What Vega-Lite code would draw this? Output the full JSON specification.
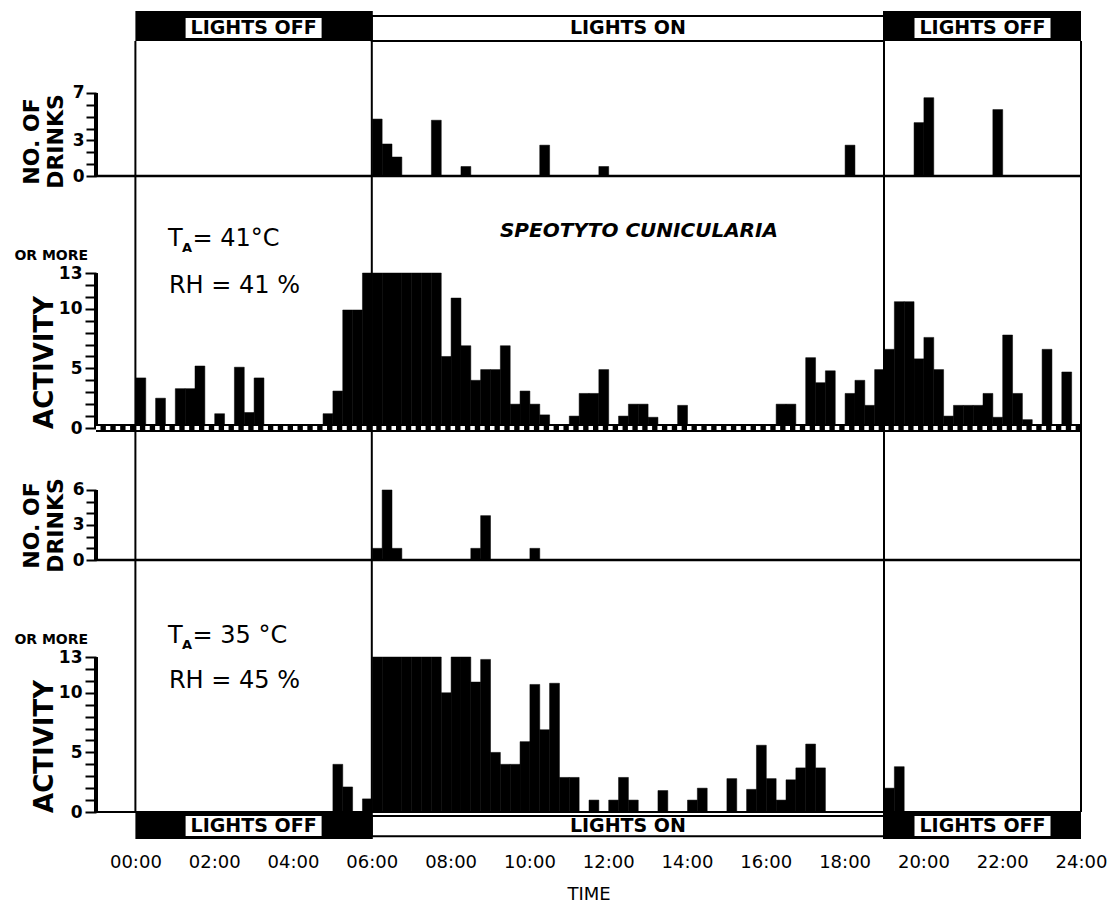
{
  "$schema": "https://vega.github.io/schema/vega-lite/v6.json",
  "background": "white",
  "padding": {"left": 14, "top": 10, "right": 5, "bottom": 5},
  "datasets": {
    "lights": [
      {"start": 0, "end": 6, "mid": 3, "phase": "LIGHTS OFF"},
      {"start": 6, "end": 19, "mid": 12.5, "phase": "LIGHTS ON"},
      {"start": 19, "end": 24, "mid": 21.5, "phase": "LIGHTS OFF"}
    ],
    "drinks41": [
      {"t": 6, "n": 4.8}, {"t": 6.25, "n": 2.7}, {"t": 6.5, "n": 1.6}, {"t": 7.5, "n": 4.7},
      {"t": 8.25, "n": 0.8}, {"t": 10.25, "n": 2.6}, {"t": 11.75, "n": 0.8}, {"t": 18, "n": 2.6},
      {"t": 19.75, "n": 4.5}, {"t": 20, "n": 6.6}, {"t": 21.75, "n": 5.6}
    ],
    "activity41": [
      {"t": 0, "n": 4.2}, {"t": 0.5, "n": 2.5}, {"t": 1, "n": 3.3}, {"t": 1.25, "n": 3.3},
      {"t": 1.5, "n": 5.2}, {"t": 2, "n": 1.2}, {"t": 2.5, "n": 5.1}, {"t": 2.75, "n": 1.3},
      {"t": 3, "n": 4.2}, {"t": 4.75, "n": 1.2}, {"t": 5, "n": 3.1}, {"t": 5.25, "n": 9.9},
      {"t": 5.5, "n": 9.9}, {"t": 5.75, "n": 13}, {"t": 6, "n": 13}, {"t": 6.25, "n": 13},
      {"t": 6.5, "n": 13}, {"t": 6.75, "n": 13}, {"t": 7, "n": 13}, {"t": 7.25, "n": 13},
      {"t": 7.5, "n": 13}, {"t": 7.75, "n": 6}, {"t": 8, "n": 10.9}, {"t": 8.25, "n": 6.9},
      {"t": 8.5, "n": 4}, {"t": 8.75, "n": 4.9}, {"t": 9, "n": 4.9}, {"t": 9.25, "n": 6.9},
      {"t": 9.5, "n": 2}, {"t": 9.75, "n": 3.1}, {"t": 10, "n": 2}, {"t": 10.25, "n": 1.1},
      {"t": 11, "n": 1}, {"t": 11.25, "n": 2.9}, {"t": 11.5, "n": 2.9}, {"t": 11.75, "n": 4.9},
      {"t": 12.25, "n": 1}, {"t": 12.5, "n": 2}, {"t": 12.75, "n": 2}, {"t": 13, "n": 0.9},
      {"t": 13.75, "n": 1.9}, {"t": 16.25, "n": 2}, {"t": 16.5, "n": 2}, {"t": 17, "n": 5.9},
      {"t": 17.25, "n": 3.8}, {"t": 17.5, "n": 4.8}, {"t": 18, "n": 2.9}, {"t": 18.25, "n": 4},
      {"t": 18.5, "n": 1.9}, {"t": 18.75, "n": 4.9}, {"t": 19, "n": 6.6}, {"t": 19.25, "n": 10.6},
      {"t": 19.5, "n": 10.6}, {"t": 19.75, "n": 5.8}, {"t": 20, "n": 7.6}, {"t": 20.25, "n": 4.9},
      {"t": 20.5, "n": 1}, {"t": 20.75, "n": 1.9}, {"t": 21, "n": 1.9}, {"t": 21.25, "n": 1.9},
      {"t": 21.5, "n": 2.9}, {"t": 21.75, "n": 0.9}, {"t": 22, "n": 7.8}, {"t": 22.25, "n": 2.9},
      {"t": 22.5, "n": 0.7}, {"t": 23, "n": 6.6}, {"t": 23.5, "n": 4.7}
    ],
    "drinks35": [
      {"t": 6, "n": 1}, {"t": 6.25, "n": 6}, {"t": 6.5, "n": 1}, {"t": 8.5, "n": 1},
      {"t": 8.75, "n": 3.8}, {"t": 10, "n": 1}
    ],
    "activity35": [
      {"t": 5, "n": 4}, {"t": 5.25, "n": 2.1}, {"t": 5.75, "n": 1.1}, {"t": 6, "n": 13},
      {"t": 6.25, "n": 13}, {"t": 6.5, "n": 13}, {"t": 6.75, "n": 13}, {"t": 7, "n": 13},
      {"t": 7.25, "n": 13}, {"t": 7.5, "n": 13}, {"t": 7.75, "n": 10}, {"t": 8, "n": 13},
      {"t": 8.25, "n": 13}, {"t": 8.5, "n": 10.9}, {"t": 8.75, "n": 12.8}, {"t": 9, "n": 5},
      {"t": 9.25, "n": 4}, {"t": 9.5, "n": 4}, {"t": 9.75, "n": 5.9}, {"t": 10, "n": 10.7},
      {"t": 10.25, "n": 6.9}, {"t": 10.5, "n": 10.8}, {"t": 10.75, "n": 2.9}, {"t": 11, "n": 2.9},
      {"t": 11.5, "n": 1}, {"t": 12, "n": 1}, {"t": 12.25, "n": 2.9}, {"t": 12.5, "n": 1},
      {"t": 13.25, "n": 1.8}, {"t": 14, "n": 1}, {"t": 14.25, "n": 2}, {"t": 15, "n": 2.8},
      {"t": 15.5, "n": 1.9}, {"t": 15.75, "n": 5.6}, {"t": 16, "n": 2.8}, {"t": 16.25, "n": 1},
      {"t": 16.5, "n": 2.7}, {"t": 16.75, "n": 3.7}, {"t": 17, "n": 5.7}, {"t": 17.25, "n": 3.7},
      {"t": 19, "n": 2}, {"t": 19.25, "n": 3.8}
    ]
  },
  "spacing": 0,
  "bounds": "flush",
  "resolve": {"scale": {"x": "independent", "y": "independent"}},
  "vconcat": [
    {
      "width": 985,
      "height": 30,
      "data": {"name": "lights"},
      "layer": [
        {
          "transform": [{"filter": "datum.phase == 'LIGHTS OFF'"}],
          "mark": {"type": "rect", "color": "black"},
          "encoding": {
            "x": {"field": "start", "type": "quantitative", "scale": {"domain": [-1, 24], "nice": false, "zero": false}, "axis": null},
            "x2": {"field": "end"},
            "y": {"datum": 0, "type": "quantitative", "scale": {"domain": [0, 1], "nice": false}, "axis": null},
            "y2": {"datum": 1}
          }
        },
        {
          "transform": [{"filter": "datum.phase == 'LIGHTS ON'"}],
          "mark": {"type": "rect", "fill": "white", "stroke": "black", "strokeWidth": 2},
          "encoding": {
            "x": {"field": "start", "type": "quantitative", "axis": null},
            "x2": {"field": "end"},
            "y": {"datum": 0, "type": "quantitative", "axis": null},
            "y2": {"datum": 0.83}
          }
        },
        {
          "transform": [{"filter": "datum.phase == 'LIGHTS OFF'"}],
          "mark": {"type": "point", "shape": "M-1,-0.147H1V0.147H-1Z", "filled": true, "fill": "white", "strokeWidth": 0, "opacity": 1, "size": 18496},
          "encoding": {
            "x": {"field": "mid", "type": "quantitative", "axis": null},
            "y": {"datum": 0.43, "type": "quantitative", "axis": null}
          }
        },
        {
          "mark": {"type": "text", "fontSize": 19, "fontWeight": "bold", "color": "black", "baseline": "middle"},
          "encoding": {
            "x": {"field": "mid", "type": "quantitative", "axis": null},
            "y": {"datum": 0.43, "type": "quantitative", "axis": null},
            "text": {"field": "phase"}
          }
        },
        {
          "transform": [{"filter": "datum.start > 0"}],
          "mark": {"type": "rule", "color": "black", "strokeWidth": 2},
          "encoding": {"x": {"field": "start", "type": "quantitative", "axis": null}}
        }
      ]
    },
    {
      "width": 985,
      "height": 135,
      "resolve": {"axis": {"y": "independent"}},
      "layer": [
        {
          "data": {"name": "drinks41"},
          "mark": {"type": "bar", "color": "black", "binSpacing": 0, "stroke": "black", "strokeWidth": 0.5},
          "encoding": {
            "x": {"field": "t", "type": "quantitative", "bin": {"binned": true, "step": 0.25}, "scale": {"domain": [-1, 24], "nice": false, "zero": false}, "axis": null},
            "y": {
              "field": "n", "type": "quantitative",
              "scale": {"domain": [0, 11.38], "nice": false},
              "axis": {
                "title": ["NO. OF", "DRINKS"], "values": [0, 1, 2, 3, 4, 5, 6, 7],
                "labelExpr": "indexof([0, 3, 7], datum.value) >= 0 ? datum.label : ''",
                "domain": false, "grid": false, "tickSize": 10, "tickWidth": 2, "tickColor": "black",
                "labelFontSize": 17, "labelFontWeight": "bold", "labelColor": "black", "labelPadding": 2,
                "labelFlush": false, "labelOverlap": false, "labelBound": false,
                "titleFontSize": 22, "titleFontWeight": "bold", "titleColor": "black", "titleLineHeight": 24,
                "titleAngle": -90, "titleAlign": "center", "titleBaseline": "middle", "titleX": -65, "titleY": 100
              }
            }
          }
        },
        {
          "data": {"values": [{}]},
          "mark": {"type": "rule", "color": "black", "strokeWidth": 4},
          "encoding": {
            "x": {"datum": -1, "type": "quantitative", "axis": null},
            "y": {"datum": 0, "type": "quantitative", "axis": null},
            "y2": {"datum": 7}
          }
        },
        {
          "data": {"values": [{}]},
          "mark": {"type": "rule", "color": "black", "strokeWidth": 2.5},
          "encoding": {
            "x": {"datum": -1, "type": "quantitative", "axis": null},
            "x2": {"datum": 24},
            "y": {"datum": 0, "type": "quantitative", "axis": null}
          }
        },
        {
          "data": {"name": "lights"},
          "mark": {"type": "rule", "color": "black", "strokeWidth": 2},
          "encoding": {"x": {"field": "start", "type": "quantitative", "axis": null}}
        },
        {
          "data": {"values": [{}]},
          "mark": {"type": "rule", "color": "black", "strokeWidth": 2},
          "encoding": {"x": {"datum": 24, "type": "quantitative", "axis": null}}
        }
      ]
    },
    {
      "width": 985,
      "height": 252,
      "resolve": {"axis": {"y": "independent"}},
      "layer": [
        {
          "data": {"name": "activity41"},
          "mark": {"type": "bar", "color": "black", "binSpacing": 0, "stroke": "black", "strokeWidth": 0.5},
          "encoding": {
            "x": {"field": "t", "type": "quantitative", "bin": {"binned": true, "step": 0.25}, "scale": {"domain": [-1, 24], "nice": false, "zero": false}, "axis": null},
            "y": {
              "field": "n", "type": "quantitative",
              "scale": {"domain": [0, 21.14], "nice": false},
              "axis": {
                "title": "ACTIVITY", "values": [0, 1, 2, 3, 4, 5, 6, 7, 8, 9, 10, 11, 12, 13],
                "labelExpr": "indexof([0, 5, 10, 13], datum.value) >= 0 ? datum.label : ''",
                "domain": false, "grid": false, "tickSize": 11, "tickWidth": 2, "tickColor": "black",
                "labelFontSize": 17, "labelFontWeight": "bold", "labelColor": "black", "labelPadding": 3,
                "labelFlush": false, "labelOverlap": false, "labelBound": false,
                "titleFontSize": 26, "titleFontWeight": "bold", "titleColor": "black",
                "titleAngle": -90, "titleAlign": "center", "titleBaseline": "middle", "titleX": -52, "titleY": 186
              }
            }
          }
        },
        {
          "data": {"values": [{}]},
          "mark": {"type": "rule", "color": "black", "strokeWidth": 4},
          "encoding": {
            "x": {"datum": -1, "type": "quantitative", "axis": null},
            "y": {"datum": 0, "type": "quantitative", "axis": null},
            "y2": {"datum": 13}
          }
        },
        {
          "data": {"values": [{}]},
          "mark": {"type": "rule", "color": "black", "strokeWidth": 8},
          "encoding": {
            "x": {"datum": -1, "type": "quantitative", "axis": null},
            "x2": {"datum": 24},
            "y": {"datum": 0, "type": "quantitative", "axis": null}
          }
        },
        {
          "data": {"values": [{}]},
          "mark": {"type": "rule", "color": "white", "strokeWidth": 4, "strokeDash": [4.5, 5.35]},
          "encoding": {
            "x": {"datum": -1, "type": "quantitative", "axis": null},
            "x2": {"datum": 24},
            "y": {"datum": 0, "type": "quantitative", "axis": null}
          }
        },
        {
          "data": {"name": "lights"},
          "mark": {"type": "rule", "color": "black", "strokeWidth": 2},
          "encoding": {"x": {"field": "start", "type": "quantitative", "axis": null}}
        },
        {
          "data": {"values": [{}]},
          "mark": {"type": "rule", "color": "black", "strokeWidth": 2},
          "encoding": {"x": {"datum": 24, "type": "quantitative", "axis": null}}
        },
        {
          "data": {"values": [{}]},
          "mark": {"type": "text", "text": "T", "fontSize": 24, "align": "left", "baseline": "middle", "color": "black"},
          "encoding": {"x": {"datum": 0.83, "type": "quantitative", "axis": null}, "y": {"datum": 15.85, "type": "quantitative", "axis": null}}
        },
        {
          "data": {"values": [{}]},
          "mark": {"type": "text", "text": "A", "fontSize": 13, "fontWeight": "bold", "align": "left", "baseline": "middle", "color": "black"},
          "encoding": {"x": {"datum": 1.18, "type": "quantitative", "axis": null}, "y": {"datum": 15.1, "type": "quantitative", "axis": null}}
        },
        {
          "data": {"values": [{}]},
          "mark": {"type": "text", "text": "= 41°C", "fontSize": 24, "align": "left", "baseline": "middle", "color": "black"},
          "encoding": {"x": {"datum": 1.45, "type": "quantitative", "axis": null}, "y": {"datum": 15.85, "type": "quantitative", "axis": null}}
        },
        {
          "data": {"values": [{}]},
          "mark": {"type": "text", "text": "RH = 41 %", "fontSize": 24, "align": "left", "baseline": "middle", "color": "black"},
          "encoding": {"x": {"datum": 0.85, "type": "quantitative", "axis": null}, "y": {"datum": 11.9, "type": "quantitative", "axis": null}}
        },
        {
          "data": {"values": [{}]},
          "mark": {"type": "text", "text": "SPEOTYTO CUNICULARIA", "fontSize": 20, "fontWeight": "bold", "fontStyle": "italic", "align": "center", "baseline": "middle", "color": "black"},
          "encoding": {"x": {"datum": 12.78, "type": "quantitative", "axis": null}, "y": {"datum": 16.5, "type": "quantitative", "axis": null}}
        },
        {
          "data": {"values": [{}]},
          "mark": {"type": "text", "text": "OR MORE", "fontSize": 14, "fontWeight": "bold", "align": "right", "baseline": "middle", "color": "black"},
          "encoding": {"x": {"datum": -1.2, "type": "quantitative", "axis": null}, "y": {"datum": 14.4, "type": "quantitative", "axis": null}}
        }
      ]
    },
    {
      "width": 985,
      "height": 132,
      "resolve": {"axis": {"y": "independent"}},
      "layer": [
        {
          "data": {"name": "drinks35"},
          "mark": {"type": "bar", "color": "black", "binSpacing": 0, "stroke": "black", "strokeWidth": 0.5},
          "encoding": {
            "x": {"field": "t", "type": "quantitative", "bin": {"binned": true, "step": 0.25}, "scale": {"domain": [-1, 24], "nice": false, "zero": false}, "axis": null},
            "y": {
              "field": "n", "type": "quantitative",
              "scale": {"domain": [0, 11.31], "nice": false},
              "axis": {
                "title": ["NO. OF", "DRINKS"], "values": [0, 1, 2, 3, 4, 5, 6],
                "labelExpr": "indexof([0, 3, 6], datum.value) >= 0 ? datum.label : ''",
                "domain": false, "grid": false, "tickSize": 10, "tickWidth": 2, "tickColor": "black",
                "labelFontSize": 17, "labelFontWeight": "bold", "labelColor": "black", "labelPadding": 2,
                "labelFlush": false, "labelOverlap": false, "labelBound": false,
                "titleFontSize": 22, "titleFontWeight": "bold", "titleColor": "black", "titleLineHeight": 24,
                "titleAngle": -90, "titleAlign": "center", "titleBaseline": "middle", "titleX": -65, "titleY": 97
              }
            }
          }
        },
        {
          "data": {"values": [{}]},
          "mark": {"type": "rule", "color": "black", "strokeWidth": 4},
          "encoding": {
            "x": {"datum": -1, "type": "quantitative", "axis": null},
            "y": {"datum": 0, "type": "quantitative", "axis": null},
            "y2": {"datum": 6}
          }
        },
        {
          "data": {"values": [{}]},
          "mark": {"type": "rule", "color": "black", "strokeWidth": 2.5},
          "encoding": {
            "x": {"datum": -1, "type": "quantitative", "axis": null},
            "x2": {"datum": 24},
            "y": {"datum": 0, "type": "quantitative", "axis": null}
          }
        },
        {
          "data": {"name": "lights"},
          "mark": {"type": "rule", "color": "black", "strokeWidth": 2},
          "encoding": {"x": {"field": "start", "type": "quantitative", "axis": null}}
        },
        {
          "data": {"values": [{}]},
          "mark": {"type": "rule", "color": "black", "strokeWidth": 2},
          "encoding": {"x": {"datum": 24, "type": "quantitative", "axis": null}}
        }
      ]
    },
    {
      "width": 985,
      "height": 252,
      "resolve": {"axis": {"y": "independent"}},
      "layer": [
        {
          "data": {"name": "activity35"},
          "mark": {"type": "bar", "color": "black", "binSpacing": 0, "stroke": "black", "strokeWidth": 0.5},
          "encoding": {
            "x": {"field": "t", "type": "quantitative", "bin": {"binned": true, "step": 0.25}, "scale": {"domain": [-1, 24], "nice": false, "zero": false}, "axis": null},
            "y": {
              "field": "n", "type": "quantitative",
              "scale": {"domain": [0, 21.14], "nice": false},
              "axis": {
                "title": "ACTIVITY", "values": [0, 1, 2, 3, 4, 5, 6, 7, 8, 9, 10, 11, 12, 13],
                "labelExpr": "indexof([0, 5, 10, 13], datum.value) >= 0 ? datum.label : ''",
                "domain": false, "grid": false, "tickSize": 11, "tickWidth": 2, "tickColor": "black",
                "labelFontSize": 17, "labelFontWeight": "bold", "labelColor": "black", "labelPadding": 3,
                "labelFlush": false, "labelOverlap": false, "labelBound": false,
                "titleFontSize": 26, "titleFontWeight": "bold", "titleColor": "black",
                "titleAngle": -90, "titleAlign": "center", "titleBaseline": "middle", "titleX": -52, "titleY": 186
              }
            }
          }
        },
        {
          "data": {"values": [{}]},
          "mark": {"type": "rule", "color": "black", "strokeWidth": 4},
          "encoding": {
            "x": {"datum": -1, "type": "quantitative", "axis": null},
            "y": {"datum": 0, "type": "quantitative", "axis": null},
            "y2": {"datum": 13}
          }
        },
        {
          "data": {"values": [{}]},
          "mark": {"type": "rule", "color": "black", "strokeWidth": 2},
          "encoding": {
            "x": {"datum": -1, "type": "quantitative", "axis": null},
            "x2": {"datum": 24},
            "y": {"datum": 0, "type": "quantitative", "axis": null}
          }
        },
        {
          "data": {"name": "lights"},
          "mark": {"type": "rule", "color": "black", "strokeWidth": 2},
          "encoding": {"x": {"field": "start", "type": "quantitative", "axis": null}}
        },
        {
          "data": {"values": [{}]},
          "mark": {"type": "rule", "color": "black", "strokeWidth": 2},
          "encoding": {"x": {"datum": 24, "type": "quantitative", "axis": null}}
        },
        {
          "data": {"values": [{}]},
          "mark": {"type": "text", "text": "T", "fontSize": 24, "align": "left", "baseline": "middle", "color": "black"},
          "encoding": {"x": {"datum": 0.83, "type": "quantitative", "axis": null}, "y": {"datum": 14.8, "type": "quantitative", "axis": null}}
        },
        {
          "data": {"values": [{}]},
          "mark": {"type": "text", "text": "A", "fontSize": 13, "fontWeight": "bold", "align": "left", "baseline": "middle", "color": "black"},
          "encoding": {"x": {"datum": 1.18, "type": "quantitative", "axis": null}, "y": {"datum": 14.05, "type": "quantitative", "axis": null}}
        },
        {
          "data": {"values": [{}]},
          "mark": {"type": "text", "text": "= 35 °C", "fontSize": 24, "align": "left", "baseline": "middle", "color": "black"},
          "encoding": {"x": {"datum": 1.45, "type": "quantitative", "axis": null}, "y": {"datum": 14.8, "type": "quantitative", "axis": null}}
        },
        {
          "data": {"values": [{}]},
          "mark": {"type": "text", "text": "RH = 45 %", "fontSize": 24, "align": "left", "baseline": "middle", "color": "black"},
          "encoding": {"x": {"datum": 0.85, "type": "quantitative", "axis": null}, "y": {"datum": 11.0, "type": "quantitative", "axis": null}}
        },
        {
          "data": {"values": [{}]},
          "mark": {"type": "text", "text": "OR MORE", "fontSize": 14, "fontWeight": "bold", "align": "right", "baseline": "middle", "color": "black"},
          "encoding": {"x": {"datum": -1.2, "type": "quantitative", "axis": null}, "y": {"datum": 14.4, "type": "quantitative", "axis": null}}
        }
      ]
    },
    {
      "width": 985,
      "height": 27,
      "data": {"name": "lights"},
      "resolve": {"axis": {"x": "independent"}},
      "layer": [
        {
          "transform": [{"filter": "datum.phase == 'LIGHTS OFF'"}],
          "mark": {"type": "rect", "color": "black"},
          "encoding": {
            "x": {
              "field": "start", "type": "quantitative",
              "scale": {"domain": [-1, 24], "nice": false, "zero": false},
              "axis": {
                "values": [0, 2, 4, 6, 8, 10, 12, 14, 16, 18, 20, 22, 24],
                "labelExpr": "(datum.value < 10 ? '0' : '') + datum.value + ':00'",
                "domain": false, "ticks": false, "grid": false,
                "labelFontSize": 18, "labelColor": "black", "labelPadding": 14,
                "labelFlush": false, "labelOverlap": false, "labelBound": false,
                "title": "TIME", "titleFontSize": 18, "titleFontWeight": "normal", "titleColor": "black", "titlePadding": 14
              }
            },
            "x2": {"field": "end"},
            "y": {"datum": 0, "type": "quantitative", "scale": {"domain": [0, 1], "nice": false}, "axis": null},
            "y2": {"datum": 1}
          }
        },
        {
          "transform": [{"filter": "datum.phase == 'LIGHTS ON'"}],
          "mark": {"type": "rect", "fill": "white", "stroke": "black", "strokeWidth": 2},
          "encoding": {
            "x": {"field": "start", "type": "quantitative", "axis": null},
            "x2": {"field": "end"},
            "y": {"datum": 0.1, "type": "quantitative", "axis": null},
            "y2": {"datum": 0.85}
          }
        },
        {
          "transform": [{"filter": "datum.phase == 'LIGHTS OFF'"}],
          "mark": {"type": "point", "shape": "M-1,-0.147H1V0.147H-1Z", "filled": true, "fill": "white", "strokeWidth": 0, "opacity": 1, "size": 18496},
          "encoding": {
            "x": {"field": "mid", "type": "quantitative", "axis": null},
            "y": {"datum": 0.48, "type": "quantitative", "axis": null}
          }
        },
        {
          "mark": {"type": "text", "fontSize": 19, "fontWeight": "bold", "color": "black", "baseline": "middle"},
          "encoding": {
            "x": {"field": "mid", "type": "quantitative", "axis": null},
            "y": {"datum": 0.48, "type": "quantitative", "axis": null},
            "text": {"field": "phase"}
          }
        },
        {
          "transform": [{"filter": "datum.start > 0"}],
          "mark": {"type": "rule", "color": "black", "strokeWidth": 2},
          "encoding": {"x": {"field": "start", "type": "quantitative", "axis": null}}
        }
      ]
    }
  ],
  "config": {
    "view": {"stroke": null},
    "font": "DejaVu Sans"
  }
}
